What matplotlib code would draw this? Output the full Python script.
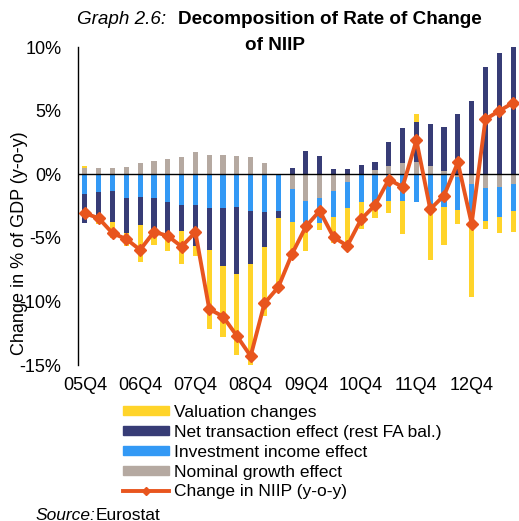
import numpy as np
import matplotlib
matplotlib.use("Agg")
import matplotlib.pyplot as plt
from matplotlib.patches import Patch
from matplotlib.lines import Line2D

plt.rcParams['font.family'] = ['Liberation Sans', 'DejaVu Sans']

# Data (% of GDP, y-o-y), quarters 05Q4 .. 13Q3
quarters = []
for i in range(32):
    q = (3 + i) % 4 + 1
    yr = 5 + (3 + i) // 4
    quarters.append(f"{yr:02d}Q{q}")

nominal_growth = [0.45, 0.47, 0.45, 0.58, 0.89, 1.02, 1.20, 1.36, 1.73, 1.52, 1.52, 1.47,
                  1.39, 0.86, 0.00, -1.18, -2.07, -1.89, -1.31, -0.60, 0.05, 0.34, 0.66, 0.86,
                  0.97, 0.66, 0.26, -0.25, -0.76, -1.10, -1.00, -0.76]
investment_income = [-1.52, -1.42, -1.36, -1.86, -1.76, -1.86, -2.20, -2.46, -2.46, -2.65, -2.67, -2.59,
                     -2.86, -3.01, -2.91, -2.57, -2.00, -1.91, -2.04, -2.04, -2.15, -2.17, -2.07, -2.10,
                     -2.15, -3.01, -2.54, -2.54, -3.09, -2.54, -2.33, -2.12]
net_transaction = [-2.28, -2.28, -2.39, -2.78, -2.23, -2.46, -2.83, -2.02, -3.22, -3.30, -4.53, -5.24,
                   -4.22, -2.75, -0.52, 0.47, 1.84, 1.44, 0.37, 0.39, 0.71, 0.58, 1.91, 2.80,
                   3.17, 3.28, 3.49, 4.74, 5.74, 8.41, 9.51, 10.01]
valuation = [0.20, -0.25, -1.28, -1.00, -2.91, -1.28, -0.97, -2.59, -0.79, -6.24, -5.61, -6.39,
             -8.10, -5.35, -5.66, -2.90, -1.95, -0.60, -2.07, -3.30, -2.15, -1.31, -1.00, -2.57,
             0.58, -3.72, -3.01, -1.10, -5.77, -0.63, -1.26, -1.70]
niip_change = [-3.07, -3.46, -4.64, -5.10, -5.95, -4.53, -4.85, -5.69, -4.56, -10.60, -11.19, -12.71,
               -14.30, -10.15, -8.88, -6.26, -4.11, -2.88, -4.95, -5.63, -3.54, -2.44, -0.42, -1.00,
               2.67, -2.75, -1.68, 0.92, -3.90, 4.32, 4.98, 5.61]

c_gray = "#B5A9A1"
c_blue = "#3399F5"
c_navy = "#373C76"
c_yellow = "#FFD42A"
c_orange = "#E8551E"

fig = plt.figure(figsize=(5.19, 5.21), dpi=100)
W, H = 519, 521
ax = fig.add_axes([78 / W, 1 - 365 / H, (520 - 78) / W, (365 - 47) / H])

x = np.arange(len(quarters))
pos_bottom = np.zeros(len(x))
neg_bottom = np.zeros(len(x))
# stacking order: nominal growth, investment income, net transaction, valuation
for vals, col in [(nominal_growth, c_gray), (investment_income, c_blue),
                  (net_transaction, c_navy), (valuation, c_yellow)]:
    v = np.array(vals)
    bottom = np.where(v >= 0, pos_bottom, neg_bottom)
    ax.bar(x, v, width=0.37, bottom=bottom, color=col, edgecolor="none", zorder=2)
    pos_bottom += np.where(v >= 0, v, 0)
    neg_bottom += np.where(v < 0, v, 0)

ax.axhline(0, color="black", lw=1.0, zorder=3)
ax.plot(x, niip_change, color=c_orange, lw=2.8, marker="D", markersize=6.5, zorder=4)

ax.set_xlim(-0.5, len(x) - 0.5)
ax.set_ylim(-15, 10)
ax.set_yticks([10, 5, 0, -5, -10, -15])
ax.set_yticklabels(["10%", "5%", "0%", "-5%", "-10%", "-15%"])
ax.set_xticks(x[::4])
ax.set_xticklabels(quarters[::4])
ax.tick_params(axis="both", length=0, labelsize=13)
ax.tick_params(axis="y", pad=12)
ax.tick_params(axis="x", pad=9)
for s in ["top", "right", "bottom"]:
    ax.spines[s].set_visible(False)
ax.spines["left"].set_linewidth(1.0)

fig.text(20 / W, 1 - 243 / H, "Change in % of GDP (y-o-y)", rotation=90,
         ha="center", va="center", fontsize=13)

# title
fig.text(77 / W, 1 - 19 / H, "Graph 2.6:", style="italic", fontsize=13.6, va="center")
fig.text(178 / W, 1 - 19 / H, "Decomposition of Rate of Change", fontweight="bold",
         fontsize=13.6, va="center")
fig.text(275 / W, 1 - 46 / H, "of NIIP", fontweight="bold", fontsize=13.6,
         ha="center", va="center")

handles = [Patch(color=c_yellow), Patch(color=c_navy), Patch(color=c_blue), Patch(color=c_gray),
           Line2D([], [], color=c_orange, lw=2.8, marker="D", markersize=4)]
labels = ["Valuation changes", "Net transaction effect (rest FA bal.)",
          "Investment income effect", "Nominal growth effect", "Change in NIIP (y-o-y)"]
fig.legend(handles, labels, loc="upper left", bbox_to_anchor=(123 / W, 1 - 405 / H),
           frameon=False, fontsize=12.5, handlelength=2.65, handleheight=0.45,
           labelspacing=0.28, handletextpad=0.3, borderpad=0, borderaxespad=0)

fig.text(35 / W, 1 - 515 / H, "Source:", style="italic", fontsize=12.5, va="center")
fig.text(96 / W, 1 - 515 / H, "Eurostat", fontsize=12.5, va="center")

fig.savefig("out.png", dpi=100)
